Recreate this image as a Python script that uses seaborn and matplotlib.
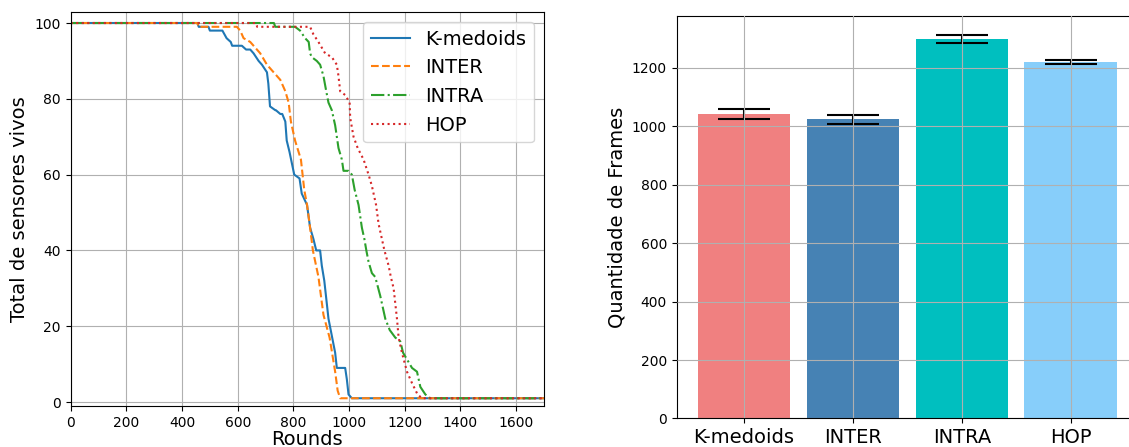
import matplotlib
matplotlib.use("Agg")
import matplotlib.pyplot as plt
import seaborn as sns
import pandas as pd

# ---- data: alive sensors per round ----
kmed_rounds = [0, 455, 460, 495, 500, 545, 560, 575, 580, 615, 630, 645, 657, 675, 687, 705,
               710, 716, 735, 737, 753, 760, 771, 776, 786, 803, 822, 830, 849, 860, 872, 882,
               896, 902, 911, 926, 950, 956, 986, 992, 998, 1010, 1700]
kmed_alive = [100, 100, 99, 99, 98, 98, 96, 95, 94, 94, 93, 93, 92, 90, 89, 87,
              84, 78, 77, 77, 76, 76, 74, 69, 66, 60, 59, 55, 52, 46, 43, 40,
              40, 36, 32, 22, 13, 9, 9, 6, 2, 1, 1]

inter_rounds = [0, 455, 460, 597, 609, 621, 645, 669, 681, 705, 729, 753, 771, 783, 791, 806,
                827, 839, 849, 860, 870, 890, 908, 930, 950, 959, 968, 1700]
inter_alive = [100, 100, 99, 99, 98, 96, 95, 93, 92, 89, 87, 85, 82, 79, 74, 69,
               64, 56, 52, 46, 40, 33, 23, 17, 8, 3, 1, 1]

intra_rounds = [0, 730, 735, 800, 806, 824, 842, 855, 860, 866, 884, 896, 908, 918, 926, 938,
                950, 962, 966, 974, 980, 998, 1010, 1020, 1034, 1046, 1055, 1062, 1070, 1082,
                1094, 1112, 1130, 1146, 1166, 1184, 1194, 1226, 1244, 1256, 1274, 1292, 1700]
intra_alive = [100, 100, 99, 99, 99, 98, 96, 95, 92, 91, 90, 89, 86, 82, 79, 77,
               73, 67, 66, 64, 61, 61, 60, 56, 52, 46, 43, 40, 37, 34,
               33, 28, 22, 19, 17, 16, 13, 9, 8, 4, 2, 1, 1]

hop_rounds = [0, 665, 670, 860, 872, 890, 914, 938, 956, 962, 968, 986, 1002, 1004, 1016, 1031,
              1038, 1052, 1070, 1082, 1097, 1106, 1118, 1127, 1142, 1150, 1160, 1172, 1178,
              1190, 1208, 1226, 1246, 1262, 1700]
hop_alive = [100, 100, 99, 99, 97, 95, 92, 91, 89, 86, 82, 81, 79, 75, 70, 67,
             66, 64, 60, 57, 52, 47, 43, 40, 36, 33, 30, 22, 17,
             13, 8, 5, 2, 1, 1]

# ---- data: frames per method ----
methods = ["K-medoids", "INTER", "INTRA", "HOP"]
frames_mean = [1042, 1024, 1299, 1221]
frames_err = [17, 15, 13, 7]

series = [
    ("K-medoids", kmed_rounds, kmed_alive, "-", "C0"),
    ("INTER", inter_rounds, inter_alive, "--", "C1"),
    ("INTRA", intra_rounds, intra_alive, "-.", "C2"),
    ("HOP", hop_rounds, hop_alive, ":", "C3"),
]

fig = plt.figure(figsize=(11.29, 4.47), dpi=100)
ax1 = fig.add_axes([0.0626, 0.0917, 0.4192, 0.8814])
ax2 = fig.add_axes([0.5994, 0.0638, 0.4086, 0.9005])

for name, xs, ys, ls, col in series:
    df = pd.DataFrame({"Rounds": xs, "alive": ys})
    sns.lineplot(data=df, x="Rounds", y="alive", ax=ax1, sort=False, estimator=None,
                 linestyle=ls, color=col, linewidth=1.5, label=name)

ax1.set_xlim(0, 1700)
ax1.set_ylim(-1.05, 102.9)
ax1.set_xticks(range(0, 1700, 200))
ax1.set_yticks(range(0, 101, 20))
ax1.grid(True)
ax1.set_xlabel("Rounds", fontsize=14, labelpad=0.5)
ax1.set_ylabel("Total de sensores vivos", fontsize=14)
ax1.legend(loc="upper right", fontsize=14)

bar_df = pd.DataFrame({"method": methods, "frames": frames_mean})
sns.barplot(data=bar_df, x="method", y="frames", hue="method", ax=ax2,
            palette=["lightcoral", "steelblue", "c", "lightskyblue"],
            saturation=1, width=0.85, legend=False, errorbar=None)
ax2.errorbar(x=range(len(methods)), y=frames_mean, yerr=frames_err, fmt="none",
             ecolor="black", elinewidth=1.5, capsize=19, capthick=1.5)
ax2.set_xlim(-0.6175, 3.6175)
ax2.set_ylim(0, 1378)
ax2.set_yticks(range(0, 1201, 200))
ax2.grid(True)
ax2.set_axisbelow(False)
ax2.set_xlabel("")
ax2.set_ylabel("Quantidade de Frames", fontsize=14)
ax2.tick_params(axis="x", labelsize=14)

fig.savefig("out.png", dpi=100)
